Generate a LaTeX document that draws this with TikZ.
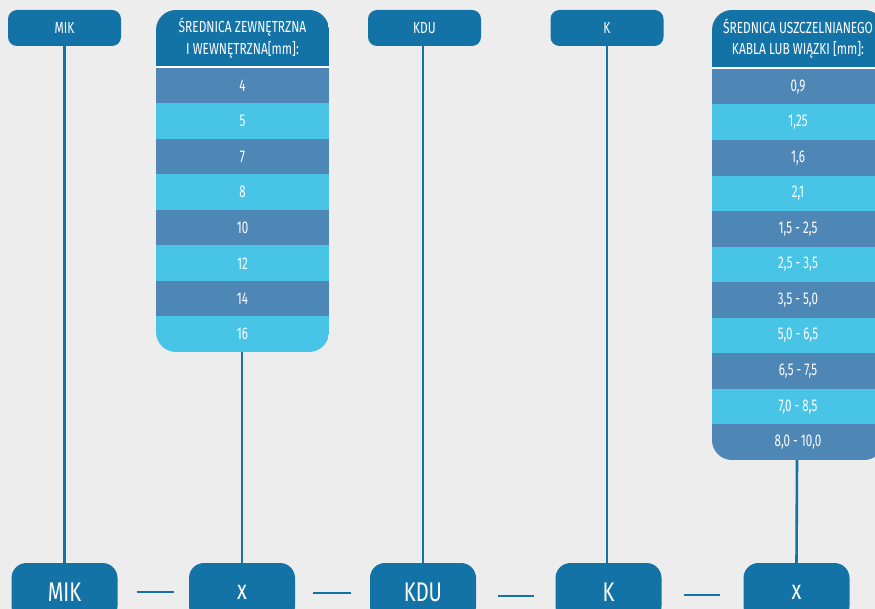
\documentclass[tikz,border=0pt]{standalone}
\usepackage{fontspec}
\setmainfont{Fira Sans}[FakeStretch=0.745]
\newfontfamily\rowfont{Fira Sans}[FakeStretch=0.68]
\definecolor{bg}{HTML}{EDEDED}
\definecolor{dblue}{HTML}{1473A6}
\definecolor{rowdark}{HTML}{4E86B6}
\definecolor{rowlight}{HTML}{48C5E6}
\begin{document}
\begin{tikzpicture}[x=1pt,y=-1pt,
  topbox/.style={fill=dblue,rounded corners=9pt,minimum width=113pt,minimum height=36pt,inner sep=0pt,text=white,font=\fontsize{16}{18}\selectfont},
  botbox/.style={fill=dblue,rounded corners=15pt,minimum width=106pt,minimum height=58pt,inner sep=0pt,text=white,font=\fontsize{27}{30}\selectfont},
  hdr/.style={fill=dblue,inner sep=0pt,text=white,align=center,font=\fontsize{16}{21.5}\selectfont},
  rowd/.style={fill=rowdark,inner sep=0pt,text=white,font=\rowfont\fontsize{17}{19}\selectfont},
  rowl/.style={fill=rowlight,inner sep=0pt,text=white,font=\rowfont\fontsize{17}{19}\selectfont},
  conn/.style={draw=dblue,line width=2.6pt},
  dashln/.style={draw=dblue,line width=2.6pt}]
\clip (0,0) rectangle (875,609);
\fill[bg] (0,0) rectangle (875,609);

\coordinate (c1bot) at (242,352);
\coordinate (c2bot) at (797,460);

% top boxes
\node[topbox] (mikT) at (64.5,28) {MIK};
\node[topbox] (kduT) at (424.5,28) {KDU};
\node[topbox] (kT) at (607,28) {K};

% bottom boxes
\node[botbox] (mikB) at (64.5,592) {MIK};
\node[botbox] (x1B) at (242,592) {x};
\node[botbox] (kduB) at (423,592) {KDU};
\node[botbox] (kB) at (608.5,592) {K};
\node[botbox] (x2B) at (796.5,592) {x};

% vertical connectors
\draw[conn] (mikT.south) -- (mikB.north);
\draw[conn] (kduT.south -| kduB.north) -- (kduB.north);
\draw[conn] (kT.south) -- (kT.south |- kB.north);
\draw[conn] (c1bot) -- (x1B.north);
\draw[conn] (c2bot) -- (x2B.north);

% dashes between bottom boxes
\draw[dashln] ([xshift=19pt]mikB.east) -- ([xshift=-15pt]x1B.west);
\draw[dashln] ([xshift=18pt,yshift=-1pt]x1B.east) -- ([xshift=-19pt,yshift=-1pt]kduB.west);
\draw[dashln] ([xshift=22pt,yshift=-4pt]kduB.east) -- ([xshift=-21pt,yshift=-4pt]kB.west);
\draw[dashln] ([xshift=22pt,yshift=-3pt]kB.east) -- ([xshift=-23pt,yshift=-3pt]x2B.west);

% column 1
\begin{scope}
\clip[rounded corners=20pt] (156,10) rectangle (329,352);
\node[hdr,minimum width=173pt,minimum height=56pt] (h1) at (242.5,38) {ŚREDNICA ZEWNĘTRZNA\\I WEWNĘTRZNA[mm]:};
\fill[white] (156,66) rectangle (329,68);
\foreach \t [count=\i] in {4,5,7,8,10,12,14,16}{
  \pgfmathsetmacro{\yc}{68+35.5*(\i-0.5)}
  \pgfmathtruncatemacro{\odd}{mod(\i,2)}
  \ifnum\odd=1
    \node[rowd,minimum width=173pt,minimum height=35.6pt] (c1r\i) at (242.5,\yc) {\t};
  \else
    \node[rowl,minimum width=173pt,minimum height=35.6pt] (c1r\i) at (242.5,\yc) {\t};
  \fi
}
\end{scope}

% column 2
\begin{scope}
\clip[rounded corners=20pt] (712,10) rectangle (884,460);
\node[hdr,minimum width=172pt,minimum height=57pt] (h2) at (798,38.5) {ŚREDNICA USZCZELNIANEGO\\KABLA LUB WIĄZKI [mm]:};
\fill[white] (712,67) rectangle (884,69);
\foreach \t [count=\i] in {{0,9},{1,25},{1,6},{2,1},{1,5 - 2,5},{2,5 - 3,5},{3,5 - 5,0},{5,0 - 6,5},{6,5 - 7,5},{7,0 - 8,5},{8,0 - 10,0}}{
  \pgfmathsetmacro{\yc}{69+35.545*(\i-0.5)}
  \pgfmathtruncatemacro{\odd}{mod(\i,2)}
  \ifnum\odd=1
    \node[rowd,minimum width=172pt,minimum height=35.7pt] (c2r\i) at (798,\yc) {\t};
  \else
    \node[rowl,minimum width=172pt,minimum height=35.7pt] (c2r\i) at (798,\yc) {\t};
  \fi
}
\end{scope}
\end{tikzpicture}
\end{document}
